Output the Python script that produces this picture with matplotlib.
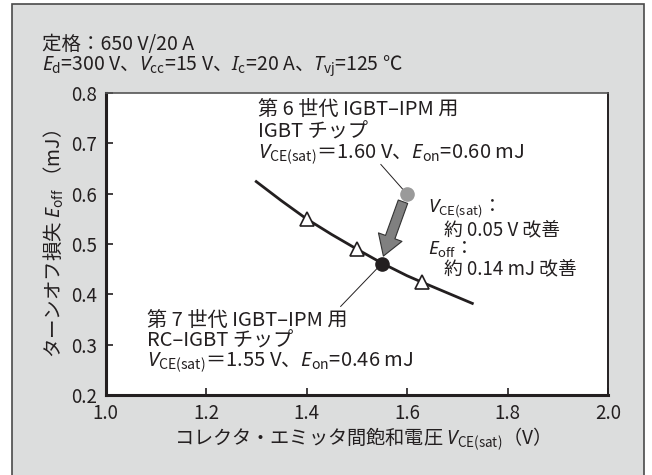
import matplotlib
matplotlib.use("Agg")
import matplotlib.pyplot as plt
from matplotlib.patches import Rectangle, FancyArrowPatch, ArrowStyle

plt.rcParams['font.family'] = ['Noto Sans CJK JP', 'DejaVu Sans']
plt.rcParams['mathtext.fontset'] = 'custom'
plt.rcParams['mathtext.rm'] = 'Noto Sans CJK JP'
plt.rcParams['mathtext.it'] = 'Noto Sans:italic'
plt.rcParams['axes.unicode_minus'] = False

INK = '#231f20'

# Eoff vs VCE(sat) trade-off curve of the RC-IGBT chip
curve_vce = [1.30, 1.35, 1.40, 1.45, 1.50, 1.55, 1.60, 1.63, 1.68, 1.73]
curve_eoff = [0.624, 0.586, 0.550, 0.519, 0.490, 0.462, 0.437, 0.424, 0.403, 0.382]

# measured points on the curve
tri_vce = [1.40, 1.50, 1.63]
tri_eoff = [0.550, 0.490, 0.425]

# 6th gen IGBT chip and 7th gen RC-IGBT chip
gen6_vce, gen6_eoff = 1.60, 0.60
gen7_vce, gen7_eoff = 1.55, 0.46

x_ticks = [1.0, 1.2, 1.4, 1.6, 1.8, 2.0]
y_ticks = [0.2, 0.3, 0.4, 0.5, 0.6, 0.7, 0.8]

W, H = 652, 475
fig = plt.figure(figsize=(W / 100, H / 100), dpi=100)
fig.patch.set_facecolor('white')

# gray panel with border
fig.patches.append(Rectangle((12 / W, -0.02), (644 - 12) / W, 1.02 - 4 / H,
                             transform=fig.transFigure, facecolor='#dcdddd',
                             edgecolor='#4a4a4a', linewidth=1.2, zorder=-10))

ax = fig.add_axes([105.5 / W, 1 - 395 / H, (608 - 105.5) / W, (395 - 93) / H])
ax.set_facecolor('white')
ax.set_xlim(1.0, 2.0)
ax.set_ylim(0.2, 0.8)
ax.set_xticks(x_ticks)
ax.set_yticks(y_ticks)
ax.set_xticklabels([f'{v:.1f}' for v in x_ticks])
ax.set_yticklabels([f'{v:.1f}' for v in y_ticks])
ax.tick_params(direction='in', length=5, width=1.2, color=INK, labelsize=13.5,
               labelcolor=INK)
ax.tick_params(axis='x', pad=6)
ax.tick_params(axis='y', pad=6)
for s in ['left', 'bottom']:
    ax.spines[s].set_linewidth(2.2)
    ax.spines[s].set_color(INK)
ax.spines['right'].set_linewidth(1.4)
ax.spines['right'].set_color(INK)
ax.spines['top'].set_linewidth(1.2)
ax.spines['top'].set_color('#555555')

ax.set_xlabel(r'コレクタ・エミッタ間飽和電圧 $V_{\mathrm{CE(sat)}}$（V）',
              fontsize=13.8, color=INK, labelpad=1)
ax.set_ylabel(r'ターンオフ損失 $E_{\mathrm{off}}$ （mJ）',
              fontsize=14, color=INK, labelpad=4)

ax.plot(curve_vce, curve_eoff, color=INK, lw=2.0, zorder=3)
ax.plot(tri_vce, tri_eoff, ls='none', marker='^', ms=10, mfc='white',
        mec=INK, mew=1.2, zorder=4)
ax.plot([gen7_vce], [gen7_eoff], ls='none', marker='o', ms=9.5, color=INK, zorder=5)
ax.plot([gen6_vce], [gen6_eoff], ls='none', marker='o', ms=9.5, color='#9a9a9a',
        zorder=5)

# improvement arrow
arrow = FancyArrowPatch((1.592, 0.584), (1.553, 0.476),
                        arrowstyle=ArrowStyle.Simple(head_length=1.45, head_width=1.8,
                                                     tail_width=0.72),
                        mutation_scale=10, facecolor='#808080', edgecolor='#333333',
                        linewidth=0.8, shrinkA=0, shrinkB=0, zorder=6)
ax.add_patch(arrow)

# leader lines
ax.plot([1.548, 1.594], [0.658, 0.606], color=INK, lw=0.7, zorder=2)
ax.plot([1.543, 1.468], [0.454, 0.376], color=INK, lw=0.7, zorder=2)

fs = 14.5
ax.text(1.304, 0.756, '第 6 世代 IGBT–IPM 用', fontsize=fs, color=INK, va='baseline')
ax.text(1.304, 0.711, 'IGBT チップ', fontsize=fs, color=INK, va='baseline')
ax.text(1.304, 0.670, r'$V_{\mathrm{CE(sat)}}$＝1.60 V、$E_{\mathrm{on}}$=0.60 mJ',
        fontsize=fs, color=INK, va='baseline')

ax.text(1.083, 0.338, '第 7 世代 IGBT–IPM 用', fontsize=fs, color=INK, va='baseline')
ax.text(1.083, 0.297, 'RC–IGBT チップ', fontsize=fs, color=INK, va='baseline')
ax.text(1.083, 0.255, r'$V_{\mathrm{CE(sat)}}$＝1.55 V、$E_{\mathrm{on}}$=0.46 mJ',
        fontsize=fs, color=INK, va='baseline')

fs_r = 13.5
ax.text(1.641, 0.562, r'$V_{\mathrm{CE(sat)}}$：', fontsize=fs_r, color=INK, va='baseline')
ax.text(1.673, 0.518, '約 0.05 V 改善', fontsize=fs_r, color=INK, va='baseline')
ax.text(1.641, 0.480, r'$E_{\mathrm{off}}$：', fontsize=fs_r, color=INK, va='baseline')
ax.text(1.673, 0.440, '約 0.14 mJ 改善', fontsize=fs_r, color=INK, va='baseline')

# test conditions
fig.text(42 / W, 1 - 50 / H, '定格：650 V/20 A', fontsize=14, color=INK, va='baseline')
fig.text(42 / W, 1 - 70 / H,
         r'$E_{\mathrm{d}}$=300 V、$V_{\mathrm{cc}}$=15 V、$I_{\mathrm{c}}$=20 A、'
         r'$T_{\mathrm{vj}}$=125 ℃',
         fontsize=14, color=INK, va='baseline')

fig.savefig('out.png', dpi=100)
